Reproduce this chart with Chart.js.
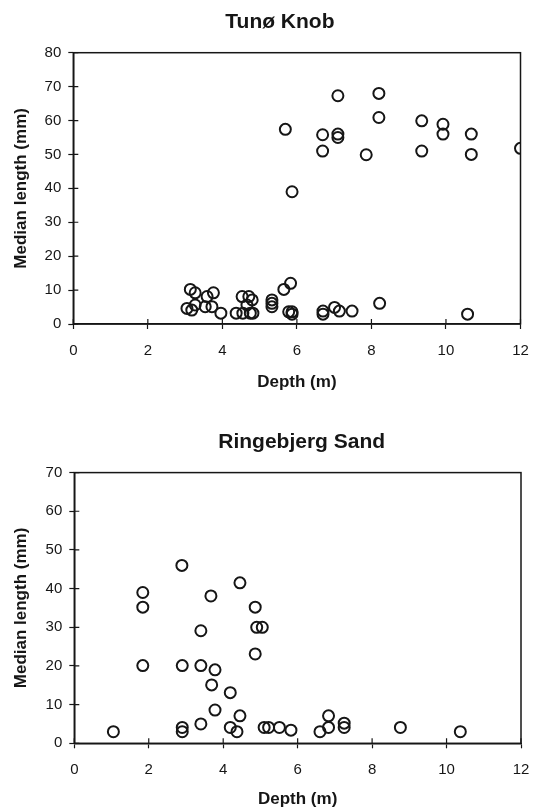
<!DOCTYPE html>
<html>
<head>
<meta charset="utf-8">
<script src="https://cdn.jsdelivr.net/npm/chart.js@4"></script>
<style>
  body { margin: 0; background: #fff; }
  .panel { position: absolute; left: 0; }
</style>
</head>
<body>
<div class="panel" style="top:0"><canvas id="tuno" width="533" height="404"></canvas></div>
<div class="panel" style="top:404px"><canvas id="ringe" width="533" height="405"></canvas></div>
<script>
// Tunø Knob: depth (m) and median length (mm)
const tunoDepth = [5.69, 7.10, 8.20, 8.20, 6.69, 7.10, 7.10, 6.69, 7.86, 9.35, 9.35, 9.92, 9.92, 10.68, 10.68, 12.0, 5.87,
  3.14, 3.27, 3.59, 3.76, 3.05, 3.18, 3.27, 3.54, 3.72, 3.96, 4.37, 4.53, 4.71, 4.80, 4.66, 4.55, 4.75, 4.82,
  5.33, 5.33, 5.33, 5.65, 5.83, 5.78, 5.87, 5.87, 6.70, 6.70, 7.01, 7.14, 7.48, 8.22, 10.58];
const tunoLength = [57.4, 67.3, 68.0, 60.9, 55.8, 56.0, 55.0, 51.0, 49.9, 59.9, 51.0, 58.9, 56.0, 56.0, 50.0, 51.8, 39.0,
  10.2, 9.2, 8.1, 9.2, 4.6, 4.1, 5.6, 5.1, 5.1, 3.2, 3.2, 8.1, 8.1, 7.1, 5.6, 3.2, 3.2, 3.2,
  7.1, 6.1, 5.1, 10.2, 12.0, 3.6, 3.6, 2.9, 3.8, 2.9, 4.9, 3.8, 3.8, 6.1, 2.9];

// Ringebjerg Sand
const ringeDepth = [1.05, 1.84, 1.84, 1.84, 2.89, 2.90, 2.90, 2.90, 3.40, 3.40, 3.40, 3.67, 3.78, 3.69, 3.78,
  4.19, 4.19, 4.37, 4.45, 4.45, 4.86, 4.86, 4.90, 5.05, 5.10, 5.22, 5.51, 5.82, 6.60, 6.83, 6.83, 7.25, 7.25, 8.76, 10.37];
const ringeLength = [3.0, 39.0, 35.2, 20.1, 46.0, 20.1, 4.1, 3.0, 29.1, 20.1, 5.0, 38.1, 19.0, 15.1, 8.6,
  13.1, 4.1, 3.0, 7.1, 41.5, 35.2, 23.1, 30.0, 30.0, 4.1, 4.1, 4.1, 3.4, 3.0, 7.1, 4.1, 5.2, 4.1, 4.1, 3.0];

const depthTicks = [0, 2, 4, 6, 8, 10, 12];

const FONT = '"Liberation Sans", Arial, sans-serif';
const INK = '#161616';

// box round the plot, inner half of the tick marks, and the panel title
const framePlugin = {
  id: 'frame',
  afterDraw(chart, args, opts) {
    const { ctx, chartArea: a, scales } = chart;
    ctx.save();
    ctx.strokeStyle = INK;
    ctx.lineWidth = 1.5;
    ctx.strokeRect(a.left, a.top, a.right - a.left, a.bottom - a.top);
    ctx.lineWidth = 1.2;
    ctx.beginPath();
    scales.x.ticks.forEach((t, i) => {
      const px = scales.x.getPixelForTick(i);
      ctx.moveTo(px, a.bottom);
      ctx.lineTo(px, a.bottom - 5);
    });
    scales.y.ticks.forEach((t, i) => {
      const py = scales.y.getPixelForTick(i);
      ctx.moveTo(a.left, py);
      ctx.lineTo(a.left + 5, py);
    });
    ctx.stroke();
    ctx.font = 'bold 21px ' + FONT;
    ctx.fillStyle = INK;
    ctx.textAlign = 'center';
    ctx.textBaseline = 'middle';
    ctx.fillText(opts.text, (a.left + a.right) / 2 + opts.dx, opts.y);
    ctx.restore();
  }
};

function makeChart(id, xs, ys, cfg) {
  const points = xs.map((x, i) => ({ x: x, y: ys[i] }));
  return new Chart(document.getElementById(id), {
    type: 'scatter',
    data: {
      datasets: [{
        data: points,
        pointStyle: 'circle',
        pointRadius: 5.5,
        pointHoverRadius: 5.5,
        borderWidth: 2,
        borderColor: INK,
        backgroundColor: 'rgba(0,0,0,0)'
      }]
    },
    options: {
      responsive: false,
      animation: false,
      layout: { padding: { left: 0, right: cfg.right, top: cfg.top, bottom: 0 } },
      plugins: {
        legend: { display: false },
        tooltip: { enabled: false },
        frame: { text: cfg.title, y: cfg.titleY, dx: cfg.titleDx }
      },
      scales: {
        x: {
          type: 'linear',
          min: 0, max: 12,
          afterBuildTicks: s => { s.ticks = depthTicks.map(v => ({ value: v })); },
          afterFit: s => { s.height = cfg.xHeight; s.paddingLeft = 0; s.paddingRight = 0; },
          grid: { drawOnChartArea: false, tickLength: 5, color: INK, tickWidth: 1.2 },
          border: { display: true, color: INK, width: 1.5 },
          ticks: { color: INK, font: { family: FONT, size: 15 }, padding: 12.5 },
          title: {
            display: true, text: 'Depth (m)', color: INK,
            font: { family: FONT, size: 17, weight: 'bold', lineHeight: 1 },
            padding: { top: 0, bottom: cfg.xTitlePad }
          }
        },
        y: {
          type: 'linear',
          min: 0, max: cfg.yMax,
          ticks: { stepSize: 10, color: INK, font: { family: FONT, size: 15 }, padding: 7 },
          afterFit: s => { s.width = cfg.left; },
          grid: { drawOnChartArea: false, tickLength: 5, color: INK, tickWidth: 1.2 },
          border: { display: true, color: INK, width: 1.5 },
          title: {
            display: true, text: 'Median length (mm)', color: INK,
            font: { family: FONT, size: 17, weight: 'bold', lineHeight: 1 },
            padding: { top: 13, bottom: 0 }
          }
        }
      }
    },
    plugins: [framePlugin]
  });
}

makeChart('tuno', tunoDepth, tunoLength, {
  title: 'Tunø Knob', titleY: 22.5, titleDx: -17, yMax: 80,
  left: 73.3, right: 12.5, top: 52.7, xHeight: 80, xTitlePad: 13
});
makeChart('ringe', ringeDepth, ringeLength, {
  title: 'Ringebjerg Sand', titleY: 38, titleDx: 4, yMax: 70,
  left: 74.3, right: 12, top: 68.6, xHeight: 65.7, xTitlePad: 1
});
</script>
</body>
</html>
